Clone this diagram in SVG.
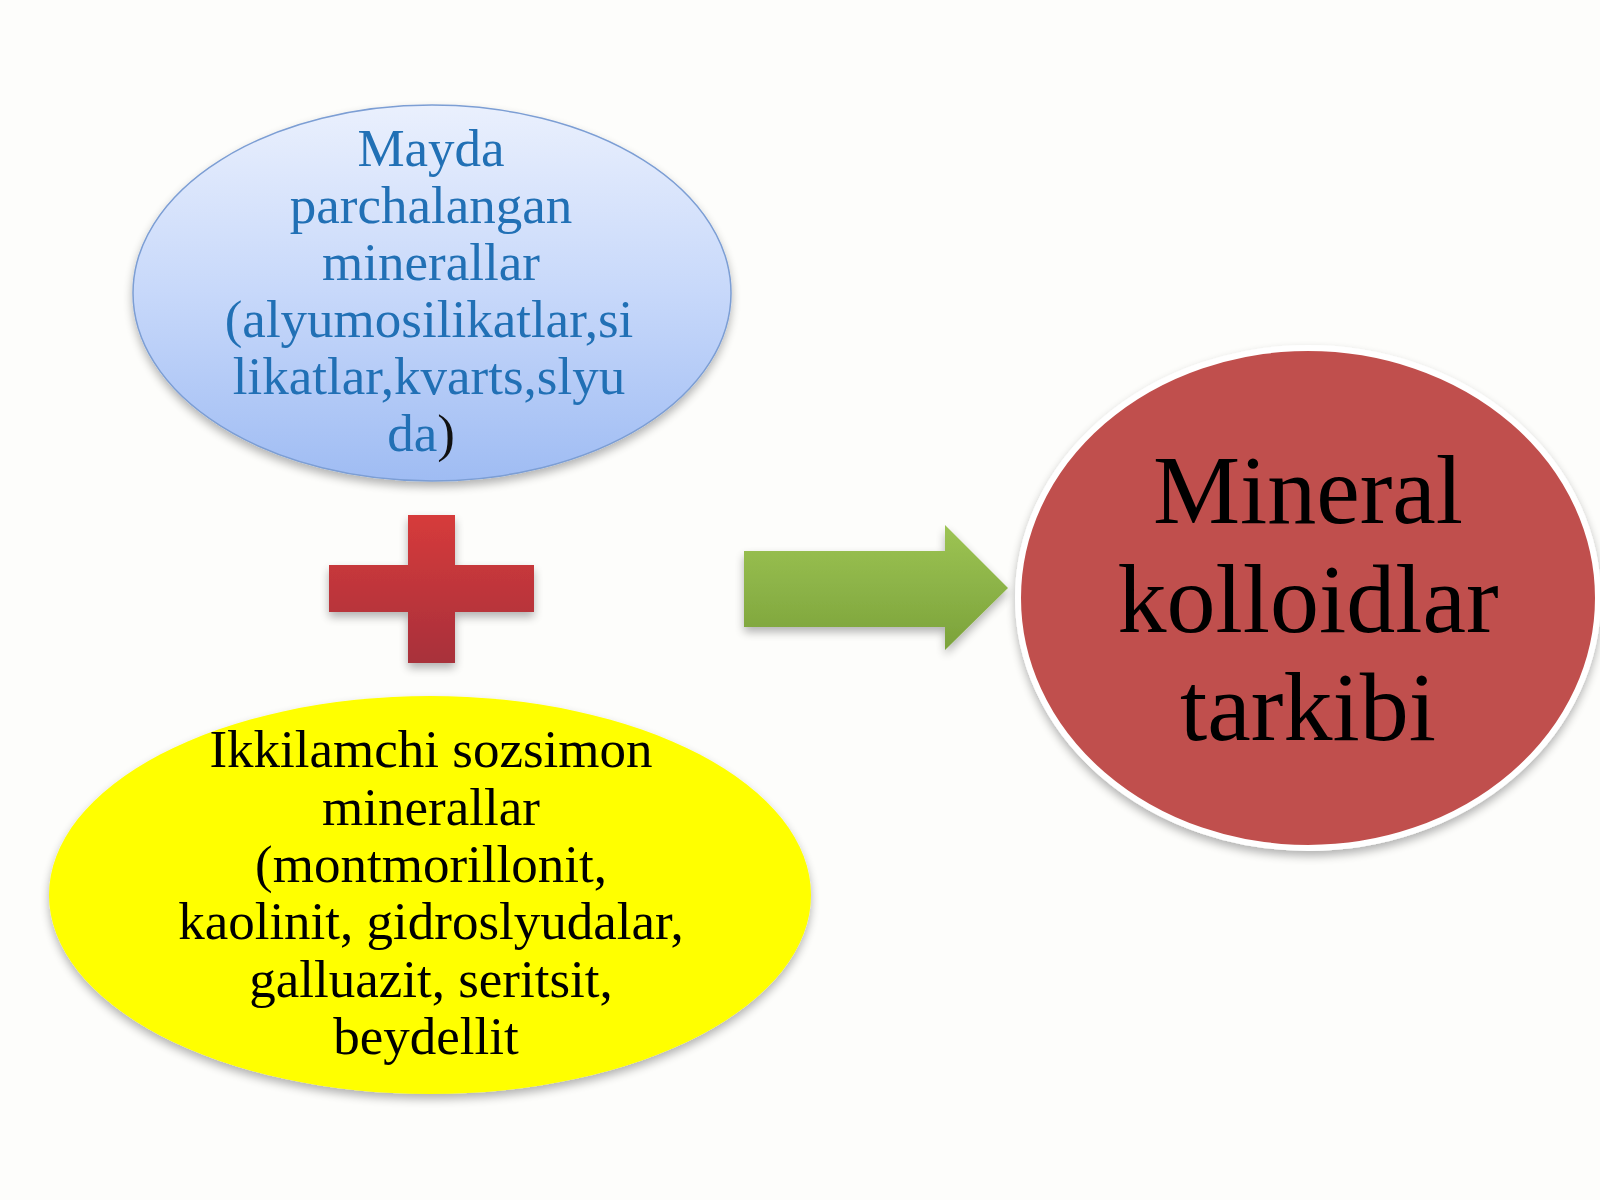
<svg xmlns="http://www.w3.org/2000/svg" width="1600" height="1200" viewBox="0 0 1600 1200">
  <defs>
    <linearGradient id="gBlue" x1="0" y1="0" x2="0" y2="1">
      <stop offset="0" stop-color="#eaf0fd"/>
      <stop offset="0.5" stop-color="#c7d8fa"/>
      <stop offset="1" stop-color="#9fbcf3"/>
    </linearGradient>
    <linearGradient id="gRed" x1="0" y1="0" x2="0" y2="1">
      <stop offset="0" stop-color="#d63b3b"/>
      <stop offset="1" stop-color="#a8303a"/>
    </linearGradient>
    <linearGradient id="gGreen" x1="0" y1="0" x2="0" y2="1">
      <stop offset="0" stop-color="#9dc454"/>
      <stop offset="1" stop-color="#7ba23a"/>
    </linearGradient>
    <filter id="shadow" x="-20%" y="-20%" width="140%" height="150%">
      <feGaussianBlur in="SourceAlpha" stdDeviation="5"/>
      <feOffset dx="0" dy="5" result="b"/>
      <feComponentTransfer><feFuncA type="linear" slope="0.3"/></feComponentTransfer>
      <feMerge><feMergeNode/><feMergeNode in="SourceGraphic"/></feMerge>
    </filter>
  </defs>
  <style>
    .serif { font-family: "Liberation Serif", "Times New Roman", serif; text-anchor: middle; }
    .blueTxt { font-size: 53px; fill: #2170b5; }
    .blackTxt { font-size: 53px; fill: #000000; }
    .bigTxt { font-size: 98px; fill: #000000; }
  </style>
  <rect x="0" y="0" width="1600" height="1200" fill="#fdfdfb"/>

  <g id="node-mayda">
    <ellipse cx="432" cy="293" rx="299" ry="188" fill="url(#gBlue)" stroke="#7c9ed4" stroke-width="1.5" filter="url(#shadow)"/>
    <text class="serif blueTxt" x="431" y="166">Mayda</text>
    <text class="serif blueTxt" x="431" y="223">parchalangan</text>
    <text class="serif blueTxt" x="431" y="280">minerallar</text>
    <text class="serif blueTxt" x="429" y="337">(alyumosilikatlar,si</text>
    <text class="serif blueTxt" x="429" y="394">likatlar,kvarts,slyu</text>
    <text class="serif blueTxt" x="421" y="451">da<tspan fill="#111111">)</tspan></text>
  </g>

  <g id="node-plus">
    <path d="M408,515 H455 V565 H534 V612 H455 V663 H408 V612 H329 V565 H408 Z" fill="url(#gRed)" filter="url(#shadow)"/>
  </g>

  <g id="node-ikkilamchi">
    <ellipse cx="430" cy="895" rx="381" ry="199" fill="#ffff00" filter="url(#shadow)"/>
    <text class="serif blackTxt" x="431" y="767">Ikkilamchi sozsimon</text>
    <text class="serif blackTxt" x="431" y="825">minerallar</text>
    <text class="serif blackTxt" x="431" y="882">(montmorillonit,</text>
    <text class="serif blackTxt" x="431" y="939">kaolinit, gidroslyudalar,</text>
    <text class="serif blackTxt" x="431" y="997">galluazit, seritsit,</text>
    <text class="serif blackTxt" x="426" y="1054">beydellit</text>
  </g>

  <g id="node-mineral">
    <ellipse cx="1308" cy="598" rx="290" ry="250" fill="#c0504d" stroke="#ffffff" stroke-width="6" filter="url(#shadow)"/>
    <text class="serif bigTxt" x="1308" y="523">Mineral</text>
    <text class="serif bigTxt" x="1308" y="632">kolloidlar</text>
    <text class="serif bigTxt" x="1308" y="740">tarkibi</text>
  </g>

  <g id="connectors">
    <path d="M744,551 H945 V525 L1008,588 L945,650 V627 H744 Z" fill="url(#gGreen)" filter="url(#shadow)"/>
  </g>
</svg>
